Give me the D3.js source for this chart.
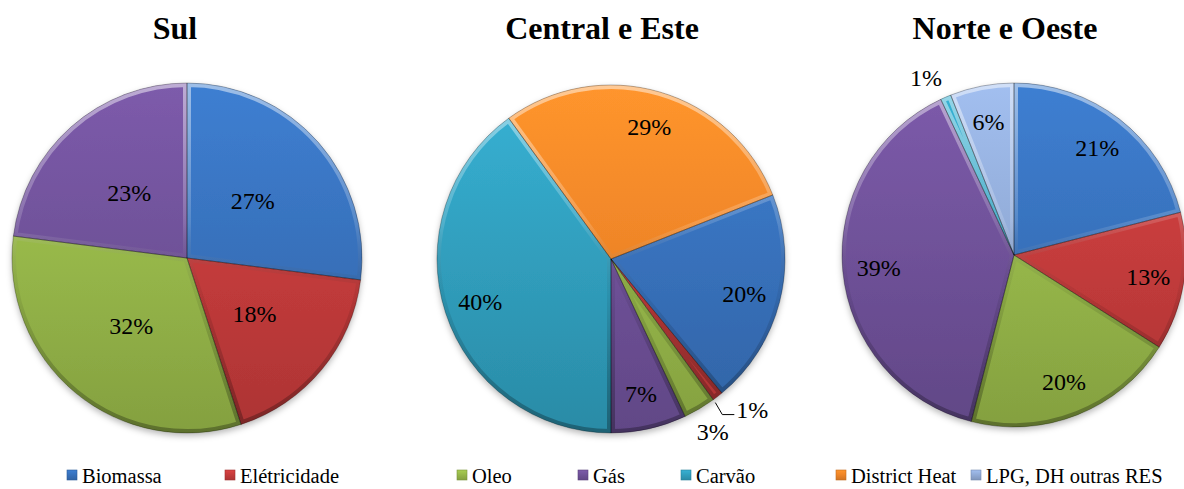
<!DOCTYPE html>
<html>
<head>
<meta charset="utf-8">
<script src="https://cdn.jsdelivr.net/npm/d3@7/dist/d3.min.js"></script>
<style>
  html, body { margin: 0; padding: 0; background: #fff; }
  svg { display: block; }
  svg text { font-family: "Liberation Serif", "Times New Roman", serif; }
</style>
</head>
<body>
<svg id="chart" width="1184" height="489"></svg>
<script>
// ── Data ───────────────────────────────────────────────────
const CATEGORIES = ["Biomassa", "Elétricidade", "Oleo", "Gás", "Carvão", "District Heat", "LPG, DH outras RES"];
const TITLES     = ["Sul", "Central e Este", "Norte e Oeste"];
const SUL        = [27, 18, 32, 23, 0, 0, 0];
const CENTRAL    = [20, 1, 3, 7, 40, 29, 0];
const NORTE      = [21, 13, 20, 39, 1, 0, 6];
const SERIES     = [SUL, CENTRAL, NORTE];

// ── Styling / layout ───────────────────────────────────────
const COLORS = ["#3872bd", "#c63c3c", "#98b94a", "#70529a", "#31a0bf", "#f08628", "#92acd8"];

const PIES = [
  { cx: 187,  cy: 258, r: 175, titleX: 175,  startDeg: 0,    labelK: 0.50 },
  { cx: 611,  cy: 259, r: 174, titleX: 602,  startDeg: 68.4, labelK: 0.79 },
  { cx: 1014, cy: 255, r: 172, titleX: 1005, startDeg: 0,    labelK: 0.79 },
];
const LEGEND_X = [67, 225, 457, 578, 681, 836, 971];
const LEGEND_Y = 474;

const svg  = d3.select("#chart");
const defs = svg.append("defs");

// soft shadow under each pie
const shadow = defs.append("filter").attr("id", "shadow")
  .attr("x", "-10%").attr("y", "-10%").attr("width", "120%").attr("height", "125%");
shadow.append("feDropShadow")
  .attr("dx", 0).attr("dy", 3).attr("stdDeviation", 3)
  .attr("flood-color", "#000").attr("flood-opacity", 0.28);

// vertical fill gradient (coords are local to the pie group)
function fillGrad(id, col, y0, y1) {
  const c = d3.color(col);
  const g = defs.append("linearGradient").attr("id", id)
    .attr("gradientUnits", "userSpaceOnUse")
    .attr("x1", 0).attr("x2", 0).attr("y1", y0).attr("y2", y1);
  g.append("stop").attr("offset", "0%").attr("stop-color", c.brighter(0.3));
  g.append("stop").attr("offset", "45%").attr("stop-color", c);
  g.append("stop").attr("offset", "100%").attr("stop-color", c.darker(0.4));
}

function bevelGrad(id, y0, y1) {
  const g = defs.append("linearGradient").attr("id", id)
    .attr("gradientUnits", "userSpaceOnUse")
    .attr("x1", 0).attr("x2", 0).attr("y1", y0).attr("y2", y1);
  g.append("stop").attr("offset", "0%").attr("stop-color", "#fff").attr("stop-opacity", 0.5);
  g.append("stop").attr("offset", "40%").attr("stop-color", "#fff").attr("stop-opacity", 0.15);
  g.append("stop").attr("offset", "60%").attr("stop-color", "#000").attr("stop-opacity", 0.06);
  g.append("stop").attr("offset", "100%").attr("stop-color", "#000").attr("stop-opacity", 0.3);
}

const rad = d => d * Math.PI / 180;

SERIES.forEach((vals, pi) => {
  const P = PIES[pi];
  const data = CATEGORIES.map((name, i) => ({ name, i, v: vals[i] }));

  const pie = d3.pie().sort(null).value(d => d.v)
    .startAngle(rad(P.startDeg)).endAngle(rad(P.startDeg) + 2 * Math.PI);
  const arcs = pie(data).filter(a => a.data.v > 0);
  const arc  = d3.arc().innerRadius(0).outerRadius(P.r);

  CATEGORIES.forEach((_, i) => fillGrad(`f${pi}_${i}`, COLORS[i], -P.r, P.r));
  bevelGrad(`b${pi}`, -P.r, P.r);

  // title
  svg.append("text")
    .attr("x", P.titleX).attr("y", 38.5)
    .attr("text-anchor", "middle")
    .attr("font-size", 32).attr("font-weight", "bold")
    .text(TITLES[pi]);

  const g = svg.append("g").attr("transform", `translate(${P.cx},${P.cy})`);
  const body = g.append("g").attr("filter", "url(#shadow)");

  body.selectAll("path.slice").data(arcs).join("path")
    .attr("class", "slice")
    .attr("d", arc)
    .attr("fill", d => `url(#f${pi}_${d.data.i})`);

  // bevel rim, clipped to each slice
  arcs.forEach((a, k) => {
    const cid = `clip${pi}_${k}`;
    defs.append("clipPath").attr("id", cid)
      .append("path").attr("d", arc(a));
    g.append("path")
      .attr("d", arc(a))
      .attr("fill", "none")
      .attr("stroke", `url(#b${pi})`)
      .attr("stroke-width", 8)
      .attr("stroke-linejoin", "round")
      .attr("clip-path", `url(#${cid})`);
  });

  // thin slice separators
  g.append("g").selectAll("path").data(arcs).join("path")
    .attr("d", arc)
    .attr("fill", "none")
    .attr("stroke", "#000").attr("stroke-opacity", 0.35).attr("stroke-width", 0.8);

  // labels
  const lg = g.append("g").attr("font-size", 24).attr("fill", "#000");
  const small = arcs.filter(a => a.data.v <= 3);

  arcs.forEach(a => {
    const mid = (a.startAngle + a.endAngle) / 2;
    const txt = a.data.v + "%";
    if (a.data.v > 3) {
      const k = P.r * P.labelK;
      lg.append("text")
        .attr("x", k * Math.sin(mid)).attr("y", -k * Math.cos(mid))
        .attr("text-anchor", "middle").attr("dy", "0.35em")
        .text(txt);
      return;
    }
    // small slice: outside; the crowded neighbour gets a leader line
    if (small.length > 1 && a === small[0]) {
      const x0 = P.r * 1.02 * Math.sin(a.endAngle), y0 = -P.r * 1.02 * Math.cos(a.endAngle);
      const x1 = x0 + 7, y1 = y0 + 12;
      const x2 = x1 + 12;
      lg.append("path")
        .attr("d", `M${x0},${y0}L${x1},${y1}L${x2},${y1}`)
        .attr("fill", "none").attr("stroke", "#000").attr("stroke-width", 1);
      lg.append("text")
        .attr("x", x2 + 2).attr("y", y1 - 5)
        .attr("dy", "0.35em")
        .text(txt);
    } else {
      const k = P.r * 1.15;
      const ang = pi === 2 ? mid - rad(3) : mid;
      lg.append("text")
        .attr("x", k * Math.sin(ang)).attr("y", -k * Math.cos(ang))
        .attr("text-anchor", "middle").attr("dy", "0.35em")
        .text(txt);
    }
  });
});

// ── Legend ─────────────────────────────────────────────────
CATEGORIES.forEach((name, i) => fillGrad(`lg${i}`, COLORS[i], LEGEND_Y - 4, LEGEND_Y + 6));

const leg = svg.append("g").attr("font-size", 20.5);
CATEGORIES.forEach((name, i) => {
  leg.append("rect")
    .attr("x", LEGEND_X[i]).attr("y", LEGEND_Y - 4)
    .attr("width", 10).attr("height", 10)
    .attr("fill", `url(#lg${i})`)
    .attr("stroke", d3.color(COLORS[i]).darker(0.6)).attr("stroke-width", 0.6);
  leg.append("text")
    .attr("x", LEGEND_X[i] + 15).attr("y", LEGEND_Y + 8.5)
    .text(name);
});
</script>
</body>
</html>
